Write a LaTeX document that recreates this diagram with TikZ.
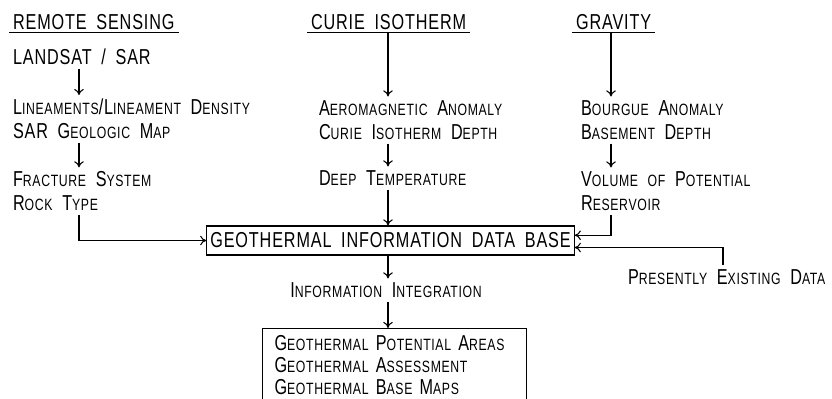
\documentclass[tikz,border=0pt]{standalone}
\usepackage{fontspec}
\setmainfont{Liberation Sans}[FakeStretch=0.75, WordSpace=1.8, LetterSpace=4]
\usetikzlibrary{positioning,arrows.meta}

% small capitals built by hand
\newcommand{\lsc}[1]{{\fontsize{9.3pt}{10pt}\selectfont #1}}

\begin{document}
\begin{tikzpicture}[x=0.02cm,y=-0.02cm,
    txt/.style={anchor=west,inner sep=2pt,align=left,
      font=\fontsize{12.3pt}{13.6pt}\selectfont},
    dbox/.style={draw,inner sep=2pt,font=\fontsize{12.3pt}{13.6pt}\selectfont},
    >={To[length=3.5pt,width=5.5pt]}, line width=0.6pt]
  \useasboundingbox (0,0) rectangle (832,399);
  \clip (0,0) rectangle (832,399);

  % columns
  \coordinate (rsx) at (79,0);
  \coordinate (mid) at (388,0);
  \coordinate (grx) at (611,0);
  \coordinate (pex) at (723,0);

  % remote sensing
  \node[txt] (rs) at (9,22) {REMOTE SENSING};
  \node[txt] (ls) at (9,57) {LANDSAT / SAR};
  \node[txt] (lin) at (9,119) {L\lsc{INEAMENTS}/L\lsc{INEAMENT} D\lsc{ENSITY}\\
    SAR G\lsc{EOLOGIC} M\lsc{AP}};
  \node[txt] (fr) at (9,191) {F\lsc{RACTURE} S\lsc{YSTEM}\\R\lsc{OCK} T\lsc{YPE}};

  % curie isotherm
  \node[txt] (ci) at (307,22) {CURIE ISOTHERM};
  \node[txt] (aero) at (315,120) {A\lsc{EROMAGNETIC} A\lsc{NOMALY}\\
    C\lsc{URIE} I\lsc{SOTHERM} D\lsc{EPTH}};
  \node[txt] (deep) at (315,178) {D\lsc{EEP} T\lsc{EMPERATURE}};

  % gravity
  \node[txt] (gr) at (572,22) {GRAVITY};
  \node[txt] (boug) at (577,120) {B\lsc{OURGUE} A\lsc{NOMALY}\\
    B\lsc{ASEMENT} D\lsc{EPTH}};
  \node[txt] (vol) at (577,191) {V\lsc{OLUME} \lsc{OF} P\lsc{OTENTIAL}\\
    R\lsc{ESERVOIR}};

  % data base and results
  \node[dbox,minimum width=7.34cm,minimum height=0.58cm] (db) at (390.5,240.5)
    {GEOTHERMAL INFORMATION DATA BASE};
  \node[txt] (pe) at (624,277) {P\lsc{RESENTLY} E\lsc{XISTING} D\lsc{ATA}};
  \node[txt,anchor=center] (ii) at (386,290) {I\lsc{NFORMATION} I\lsc{NTEGRATION}};
  \node[draw,anchor=north west,align=left,inner xsep=6pt,inner ysep=4pt,
    minimum width=5.28cm,text width=4.8cm,
    font=\fontsize{12.3pt}{12.6pt}\selectfont] (out) at (262,328)
    {G\lsc{EOTHERMAL} P\lsc{OTENTIAL} A\lsc{REAS}\\
     G\lsc{EOTHERMAL} A\lsc{SSESSMENT}\\
     G\lsc{EOTHERMAL} B\lsc{ASE} M\lsc{APS}};

  % headings
  \foreach \h in {rs,ci,gr}
    \draw ([yshift=-2pt]\h.base west) -- ([yshift=-2pt]\h.base east);

  % arrows
  \draw[->] (ls.south -| rsx) -- (lin.north -| rsx);
  \draw[->] (lin.south -| rsx) -- (fr.north -| rsx);
  \draw[->] (fr.south -| rsx) |- (db.west);
  \draw[->] ([yshift=-2pt]ci.base -| mid) -- (aero.north -| mid);
  \draw[->] (aero.south -| mid) -- (deep.north -| mid);
  \draw[->] (deep.south -| mid) -- (db.north -| mid);
  \draw[->] ([yshift=-2pt]gr.base -| grx) -- (boug.north -| grx);
  \draw[->] (boug.south -| grx) -- (vol.north -| grx);
  \draw[->] (vol.south -| grx) |- ([yshift=3pt]db.east);
  \draw[->] (pe.north -| pex) |- ([yshift=-4pt]db.east);
  \draw[->] (db.south -| mid) -- (ii.north -| mid);
  \draw[->] (ii.south -| mid) -- (out.north -| mid);
\end{tikzpicture}
\end{document}
